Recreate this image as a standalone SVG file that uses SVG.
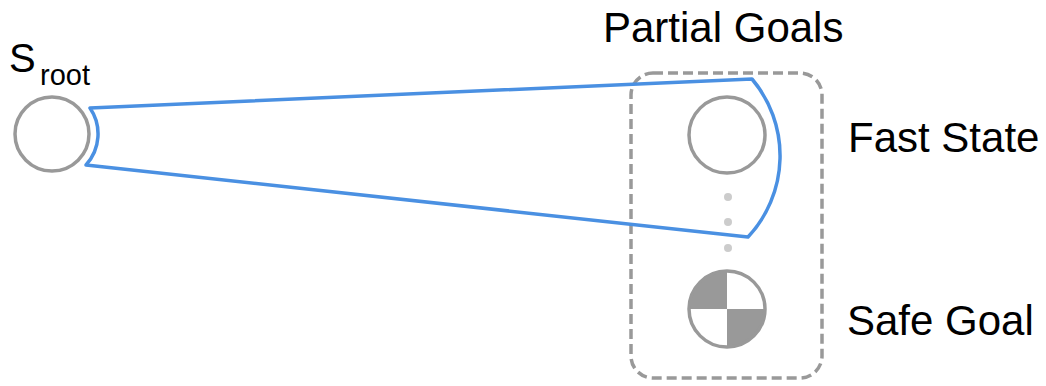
<svg xmlns="http://www.w3.org/2000/svg" width="1046" height="386" viewBox="0 0 1046 386">
  <style>
    .label { font-family: "Liberation Sans", Arial, sans-serif; fill: #000; }
    .state { fill: #fff; stroke: #999; stroke-width: 3.5; }
    .quad { fill: #999; stroke: none; }
    .dot { fill: #ccc; }
    .group-box { fill: none; stroke: #999; stroke-width: 3.5; stroke-dasharray: 10 5; }
    .cone { fill: none; stroke: #4a90e2; stroke-width: 3.5; stroke-linejoin: round; }
  </style>

  <rect width="1046" height="386" fill="#fff"/>

  <!-- partial goals container -->
  <g id="partial-goals">
    <rect class="group-box" x="631" y="73" width="191" height="305" rx="22" ry="22"/>
    <text class="label" x="603" y="42" font-size="42">Partial Goals</text>
  </g>

  <!-- root state -->
  <g id="root">
    <circle class="state" cx="52" cy="134" r="37"/>
    <text class="label" x="9" y="72" font-size="40">S</text>
    <text class="label" x="40" y="85" font-size="29">root</text>
  </g>

  <!-- fast state -->
  <g id="fast-state">
    <circle class="state" cx="727" cy="135" r="38"/>
    <text class="label" x="848" y="152" font-size="42">Fast State</text>
  </g>

  <!-- ellipsis between goals -->
  <g id="ellipsis">
    <circle class="dot" cx="728" cy="197" r="4"/>
    <circle class="dot" cx="728" cy="222" r="4"/>
    <circle class="dot" cx="728" cy="248" r="4"/>
  </g>

  <!-- safe goal -->
  <g id="safe-goal">
    <circle cx="727" cy="309" r="38" fill="#fff"/>
    <path class="quad" d="M727 309 L689 309 A38 38 0 0 1 727 271 Z"/>
    <path class="quad" d="M727 309 L765 309 A38 38 0 0 1 727 347 Z"/>
    <circle cx="727" cy="309" r="38" fill="none" stroke="#999" stroke-width="3.5"/>
    <text class="label" x="847" y="335" font-size="42">Safe Goal</text>
  </g>

  <!-- search cone from root to fast state -->
  <g id="connectors">
    <path class="cone" d="M90 108 L752 79 A119 119 0 0 1 748 237 L86 165 A46 46 0 0 0 90 108 Z"/>
  </g>
</svg>
